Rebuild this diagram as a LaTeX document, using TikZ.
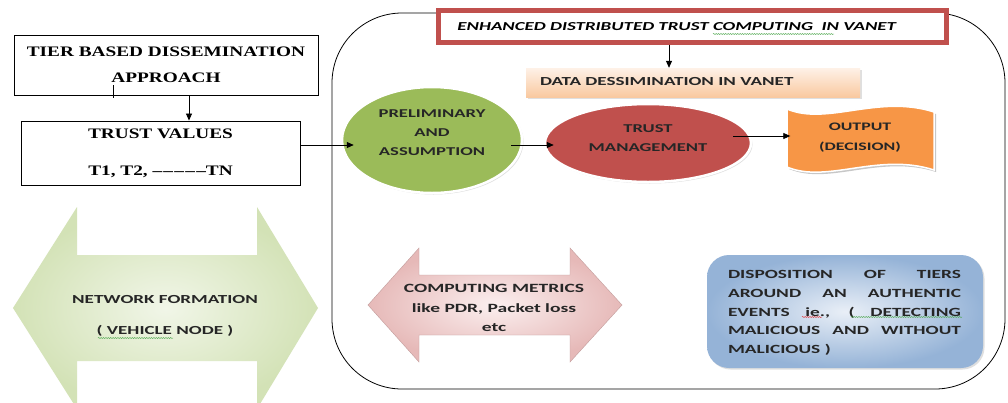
\documentclass[tikz,border=0pt]{standalone}
\usepackage{fontspec}
\setmainfont{Carlito}[FakeStretch=1.55]
\newfontfamily\serifbold{Liberation Serif}[FakeStretch=1.33]
\usetikzlibrary{arrows.meta,shadows,calc,shapes.geometric,decorations.pathmorphing}

\definecolor{olive}{HTML}{9BBB59}
\definecolor{brick}{HTML}{C0504D}
\definecolor{tangerine}{HTML}{F79646}
\definecolor{sageout}{HTML}{D3E2B6}
\definecolor{sagein}{HTML}{F1F6E8}
\definecolor{rosyout}{HTML}{E6B9B8}
\definecolor{rosyin}{HTML}{FBEFEF}
\definecolor{skyout}{HTML}{95B3D7}
\definecolor{skyin}{HTML}{E9EFF7}
\definecolor{peachtop}{HTML}{FEF1E7}
\definecolor{peachbot}{HTML}{F9C9A0}
\definecolor{spellgreen}{HTML}{4CA64C}
\definecolor{spellred}{HTML}{E03030}

% a short run of separated dashes
\newcommand{\dashrun}{–\kern1.3pt–\kern1.3pt–\kern1.3pt–\kern1.3pt–}

\begin{document}
\begin{tikzpicture}[x=1pt,y=-1pt,
  arr/.style={-{Triangle[length=7pt,width=6pt]}, line width=0.8pt},
  sbox/.style={draw=black, line width=0.9pt, fill=white, inner sep=0pt},
  sertext/.style={font=\serifbold\bfseries\fontsize{14.5}{#1}\selectfont, align=center},
  lbl/.style={font=\bfseries\fontsize{12}{19}\selectfont, text=black!85, align=center},
  softshadow/.style={drop shadow={opacity=0.25, shadow xshift=1.5pt, shadow yshift=-1.5pt}},
  squig/.style={decorate, decoration={snake, amplitude=0.5pt, segment length=2.4pt}, line width=0.45pt},
]
\useasboundingbox (0,0) rectangle (1008,402);
\fill[white] (0,0) rectangle (1008,402);

% ---------- left column ----------
\node[sbox, sertext=26, minimum width=304, minimum height=60] (tier) at (166,65)
  {TIER BASED DISSEMINATION\\APPROACH};
\draw[line width=1.3pt] ($(tier.south west)+(100,-10)$) coordinate (tk) -- ($(tk)+(0,13)$);

\node[sbox, sertext=37, minimum width=279, minimum height=64] (tv) at (160.5,153)
  {TRUST VALUES\\T1, T2, \dashrun TN};

\coordinate (t1) at ([xshift=23pt]tier.south);
\draw[arr] (t1) -- (t1 |- tv.north);

% network formation double arrow
\shade[inner color=sagein, outer color=sageout]
  (13,308) -- (77,207) -- (77,255) -- (257,255) -- (257,207) -- (318,308)
  -- (257,409) -- (257,361) -- (77,361) -- (77,409) -- cycle;
\node[lbl, font=\bfseries\fontsize{12.3}{31}\selectfont] (net) at (165,316)
  {NETWORK FORMATION\\( VEHICLE NODE )};
\draw[spellgreen, squig] (98,338) -- (173,338);

% ---------- framed right part ----------
\draw[line width=0.8pt, rounded corners=70pt] (332,13) rectangle (1005,389);

\node[draw=brick, line width=3.5pt, fill=white, minimum width=509, minimum height=33, inner sep=0pt] (title) at (692.5,26.5) {};
\draw[brick, line width=0.9pt] ($(title.north west)+(4,4)$) rectangle ($(title.south east)+(-4,-4)$);
\node[anchor=west, inner sep=0pt, font=\bfseries\itshape\fontsize{12.2}{14}\selectfont] (ttl) at ($(title.west)+(21,0)$)
  {ENHANCED DISTRIBUTED TRUST COMPUTING\ \ IN VANET};
\draw[spellgreen, squig] (713,34) -- (834,34);

\node[shade, top color=peachtop, bottom color=peachbot, softshadow, minimum width=334, minimum height=29, inner sep=0pt] (data) at (693,82.5) {};
\node[anchor=west, inner sep=0pt, font=\bfseries\fontsize{12.3}{16}\selectfont, text=black!85] (datatxt) at ($(data.west)+(14,-1)$)
  {DATA DESSIMINATION IN VANET};
\draw[arr] (title.south -| 669,0) -- (data.north -| 669,0);

% process chain
\node[ellipse, fill=olive, draw=white, line width=2.5pt, minimum width=180, minimum height=106, inner sep=0pt, softshadow] (pre) at (432,140) {};
\node[lbl] (pretxt) at ($(pre.center)+(0,-7)$) {PRELIMINARY\\AND\\ASSUMPTION};

\node[ellipse, fill=brick, draw=white, line width=2.5pt, minimum width=206, minimum height=78, inner sep=0pt, softshadow] (tm) at (648,143) {};
\node[lbl] (tmtxt) at ($(tm.center)+(0,-5)$) {TRUST\\MANAGEMENT};

\fill[black, opacity=0.22] (789,111) .. controls (829,128) and (880,96) .. (936,114)
  -- (936,172) .. controls (880,154) and (829,186) .. (789,169) -- cycle;
\filldraw[fill=tangerine, draw=white, line width=1.5pt] (787,109) .. controls (827,126) and (878,94) .. (934,112)
  -- (934,170) .. controls (878,152) and (827,184) .. (787,167) -- cycle;
\node[lbl, font=\bfseries\fontsize{11.5}{20}\selectfont, minimum width=147, inner sep=0pt] (out) at (860,138) {OUTPUT\\(DECISION)};

\draw[arr] (tv.east |- 0,145) -- ($(pre.west)+(13,5)$);
\draw[arr] ($(pre.east)+(-12,5)$) -- ($(tm.west)+(10,2)$);
\draw[arr] ($(tm.east)+(-19,-7)$) -- ($(out.west)+(4,-2)$);

% computing metrics double arrow
\shade[inner color=rosyin, outer color=rosyout, draw=rosyout!85!black, line width=0.4pt]
  (368,305) -- (419,248) -- (419,275) -- (570,275) -- (570,248) -- (622,305)
  -- (570,362) -- (570,335) -- (419,335) -- (419,362) -- cycle;
\node[lbl, font=\bfseries\fontsize{12.6}{19.5}\selectfont] (metrics) at (494,308) {COMPUTING METRICS\\like PDR, Packet loss\\etc};

% disposition box
\node[rounded corners=22pt, shade, inner color=skyin, outer color=skyout, softshadow, minimum width=276, minimum height=113, inner sep=0pt] (disp) at (845,311.5) {};
\node[inner sep=0pt, font=\bfseries\fontsize{12.5}{18.8}\selectfont, text=black!85] (disptxt) at (844.5,313)
  {\parbox{233pt}{\hyphenpenalty=10000
  DISPOSITION OF TIERS\linebreak AROUND AN AUTHENTIC\linebreak EVENTS ie., ( DETECTING\linebreak MALICIOUS AND WITHOUT\linebreak MALICIOUS )}};
\draw[spellred, squig] (802,317) -- (822,317);
\draw[spellgreen, squig] (851,317) -- (962,317);

\end{tikzpicture}
\end{document}
